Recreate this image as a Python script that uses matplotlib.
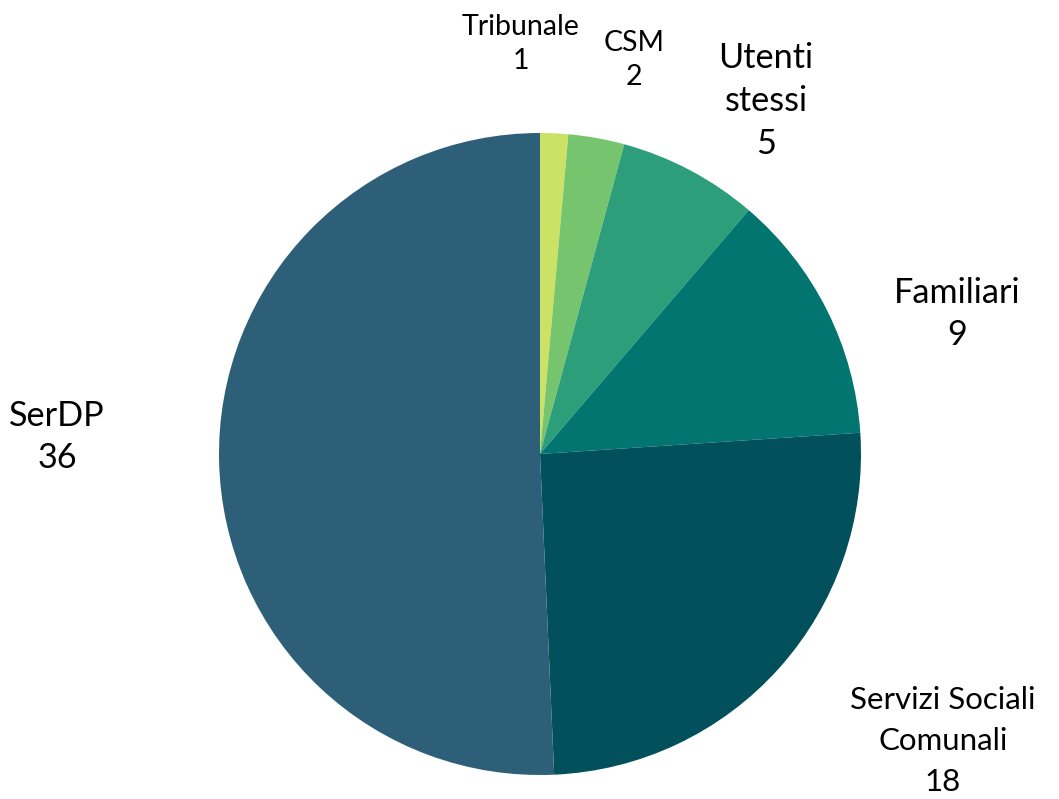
import matplotlib
matplotlib.use("Agg")
import matplotlib.pyplot as plt

categories = ["Tribunale", "CSM", "Utenti\nstessi", "Familiari", "Servizi Sociali\nComunali", "SerDP"]
values = [1, 2, 5, 9, 18, 36]
colors = ["#cce264", "#77c46f", "#2c9f7a", "#027570", "#01505c", "#2e5f78"]

W, H = 1059, 799
CX, CY, R = 540, 454, 321

fig = plt.figure(figsize=(W / 100, H / 100), dpi=100)
ax = fig.add_axes([0, 0, 1, 1])
ax.pie(values, colors=colors, startangle=90, counterclock=False, radius=1,
       wedgeprops=dict(linewidth=0))
ax.set_xlim(-CX / R, (W - CX) / R)
ax.set_ylim((CY - H) / R, CY / R)
ax.set_aspect("equal")
ax.axis("off")

def px(x, y):
    return (x - CX) / R, (CY - y) / R

# label placement (pixel centers), font size (pt), line spacing
label_pos = [(521, 44, 20.5, 1.42), (634, 60, 20.5, 1.42), (766, 101, 24.7, 1.42),
             (957, 314, 24.7, 1.42), (943, 741, 22.5, 1.55), (57, 437, 24.7, 1.42)]
for cat, val, (x, y, fs, ls) in zip(categories, values, label_pos):
    tx, ty = px(x, y)
    ax.text(tx, ty, f"{cat}\n{val}", ha="center", va="center", fontsize=fs,
            family=["Lato", "DejaVu Sans"], linespacing=ls, color="black")

fig.savefig("out.png", dpi=100)
